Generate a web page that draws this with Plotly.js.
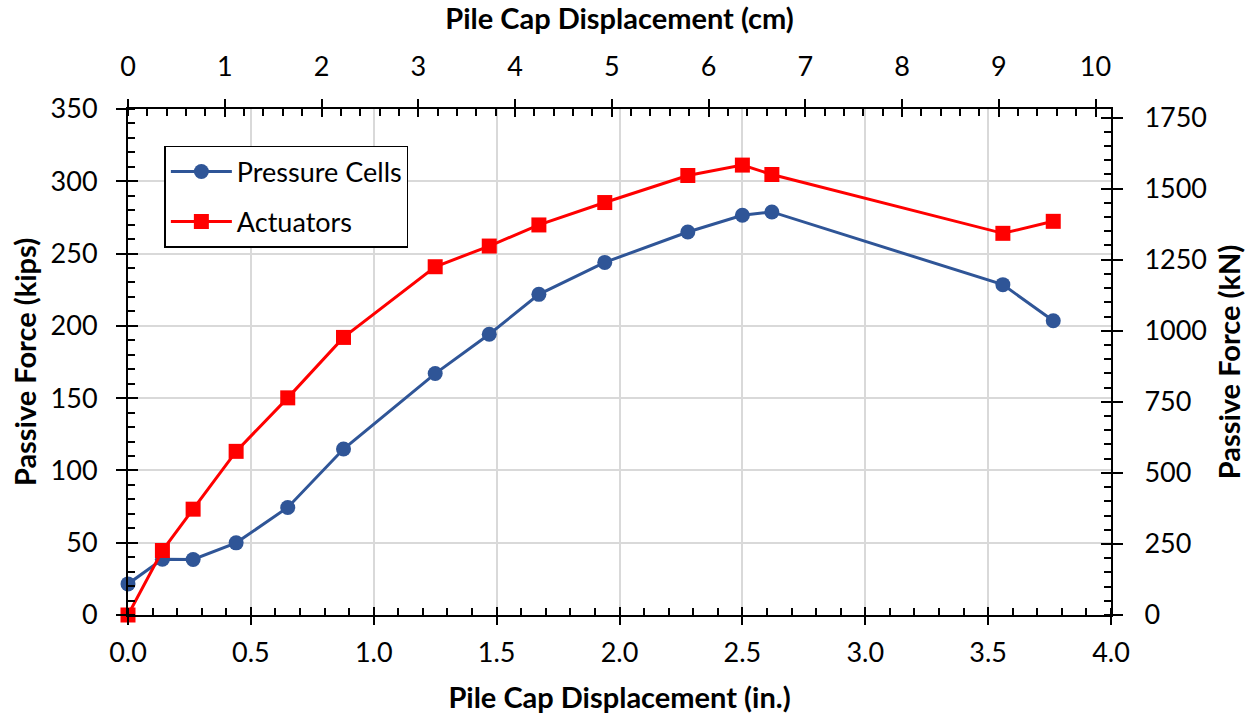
<!DOCTYPE html>
<html>
<head>
<meta charset="utf-8">
<script src="https://cdn.plot.ly/plotly-3.0.1.min.js"></script>
<style>html,body{margin:0;padding:0;background:#fff;}#chart{width:1250px;height:715px;}</style>
</head>
<body>
<div id="chart"></div>
<script>
// Pile cap displacement (in.)
const dispIn = [0, 0.14, 0.265, 0.44, 0.65, 0.877, 1.25, 1.47, 1.672, 1.94, 2.278, 2.50, 2.62, 3.56, 3.765];
// Passive force (kips)
const pressureCells = [21.5, 38.6, 38.4, 49.9, 74.4, 114.8, 167, 194.2, 221.8, 243.9, 264.9, 276.5, 278.8, 228.5, 203.5];
const actuators = [0, 44.6, 73.2, 113.2, 150.2, 192, 240.9, 255.2, 269.8, 285.3, 304, 311.2, 304.7, 264, 272.3];
const seriesNames = ["Pressure Cells", "Actuators"];

const FONT = "Lato, 'Open Sans', sans-serif";
const blue = "#2F5597", red = "#FF0000";

const traces = [
  {x: dispIn, y: pressureCells, name: seriesNames[0], type: "scatter", mode: "lines+markers",
   line: {color: blue, width: 3}, marker: {symbol: "circle", size: 15, color: blue},
   legendgroup: "a", xaxis: "x", yaxis: "y", cliponaxis: false},
  {x: dispIn, y: actuators, name: seriesNames[1], type: "scatter", mode: "lines+markers",
   line: {color: red, width: 3}, marker: {symbol: "square", size: 15, color: red},
   legendgroup: "b", xaxis: "x", yaxis: "y", cliponaxis: false},
  // empty traces to register secondary axes
  {x: [], y: [], xaxis: "x2", yaxis: "y2", showlegend: false, hoverinfo: "skip", type: "scatter"},
  {x: [], y: [], xaxis: "x3", yaxis: "y3", showlegend: false, hoverinfo: "skip", type: "scatter"},
  {x: [], y: [], xaxis: "x4", yaxis: "y4", showlegend: false, hoverinfo: "skip", type: "scatter"}
];

const tickFont = {family: FONT, size: 27, color: "#000"};
const titleFont = {family: FONT, size: 29, color: "#000", weight: "bold"};
const common = {showline: true, linecolor: "#000", linewidth: 2, tickcolor: "#000", tickwidth: 2, zeroline: false, fixedrange: true};

const layout = {
  width: 1250, height: 715,
  margin: {l: 128, r: 139, t: 109, b: 100, pad: 0},
  paper_bgcolor: "#fff", plot_bgcolor: "#fff",
  font: {family: FONT, color: "#000"},
  showlegend: true,
  legend: {x: 0.037, y: 0.927, xanchor: "left", yanchor: "top", bgcolor: "#fff",
           bordercolor: "#000", borderwidth: 1.5, font: {family: FONT, size: 27, color: "#000"},
           traceorder: "grouped", tracegroupgap: 12, itemwidth: 61},
  xaxis: Object.assign({}, common, {
    range: [0, 4], dtick: 0.5, tick0: 0, tickformat: ".1f", side: "bottom", anchor: "y",
    ticks: "outside", ticklen: 8, ticklabelstandoff: 5, tickfont: tickFont,
    showgrid: true, gridcolor: "#d9d9d9", gridwidth: 2,
    minor: {dtick: 0.1, ticks: "inside", ticklen: 7, tickcolor: "#000", tickwidth: 2, showgrid: false},
    title: {text: "Pile Cap Displacement (in.)", font: titleFont, standoff: 20}
  }),
  xaxis2: Object.assign({}, common, {
    range: [0, 10.16], dtick: 1, tick0: 0, side: "top", overlaying: "x", anchor: "y",
    ticks: "outside", ticklen: 8, ticklabelstandoff: 12, tickfont: tickFont, showgrid: false,
    minor: {dtick: 0.2, ticks: "inside", ticklen: 7, tickcolor: "#000", tickwidth: 2, showgrid: false},
    title: {text: "Pile Cap Displacement (cm)", font: titleFont, standoff: 20}
  }),
  xaxis3: Object.assign({}, common, {
    range: [0, 4], dtick: 0.5, tick0: 0, side: "bottom", overlaying: "x", anchor: "y",
    ticks: "inside", ticklen: 8, showticklabels: false, showgrid: false, showline: false
  }),
  xaxis4: Object.assign({}, common, {
    range: [0, 10.16], dtick: 1, tick0: 0, side: "top", overlaying: "x", anchor: "y",
    ticks: "inside", ticklen: 8, showticklabels: false, showgrid: false, showline: false
  }),
  yaxis: Object.assign({}, common, {
    range: [0, 350], dtick: 50, tick0: 0, side: "left", anchor: "x",
    ticks: "outside", ticklen: 10, ticklabelstandoff: 13, tickfont: tickFont,
    showgrid: true, gridcolor: "#d9d9d9", gridwidth: 2,
    minor: {dtick: 10, ticks: "inside", ticklen: 7, tickcolor: "#000", tickwidth: 2, showgrid: false},
    title: {text: "Passive Force (kips)", font: titleFont, standoff: 5}
  }),
  yaxis2: Object.assign({}, common, {
    range: [0, 1780], dtick: 250, tick0: 0, side: "right", overlaying: "y", anchor: "x",
    ticks: "outside", ticklen: 10, ticklabelstandoff: 16, tickfont: tickFont, showgrid: false,
    minor: {dtick: 50, ticks: "inside", ticklen: 7, tickcolor: "#000", tickwidth: 2, showgrid: false},
    title: {text: "Passive Force (kN)", font: titleFont, standoff: 14}
  }),
  yaxis3: Object.assign({}, common, {
    range: [0, 350], dtick: 50, tick0: 0, side: "left", overlaying: "y", anchor: "x",
    ticks: "inside", ticklen: 10, showticklabels: false, showgrid: false, showline: false
  }),
  yaxis4: Object.assign({}, common, {
    range: [0, 1780], dtick: 250, tick0: 0, side: "right", overlaying: "y", anchor: "x",
    ticks: "inside", ticklen: 10, showticklabels: false, showgrid: false, showline: false
  })
};

Plotly.newPlot("chart", traces, layout, {displayModeBar: false, staticPlot: true});
</script>
</body>
</html>
